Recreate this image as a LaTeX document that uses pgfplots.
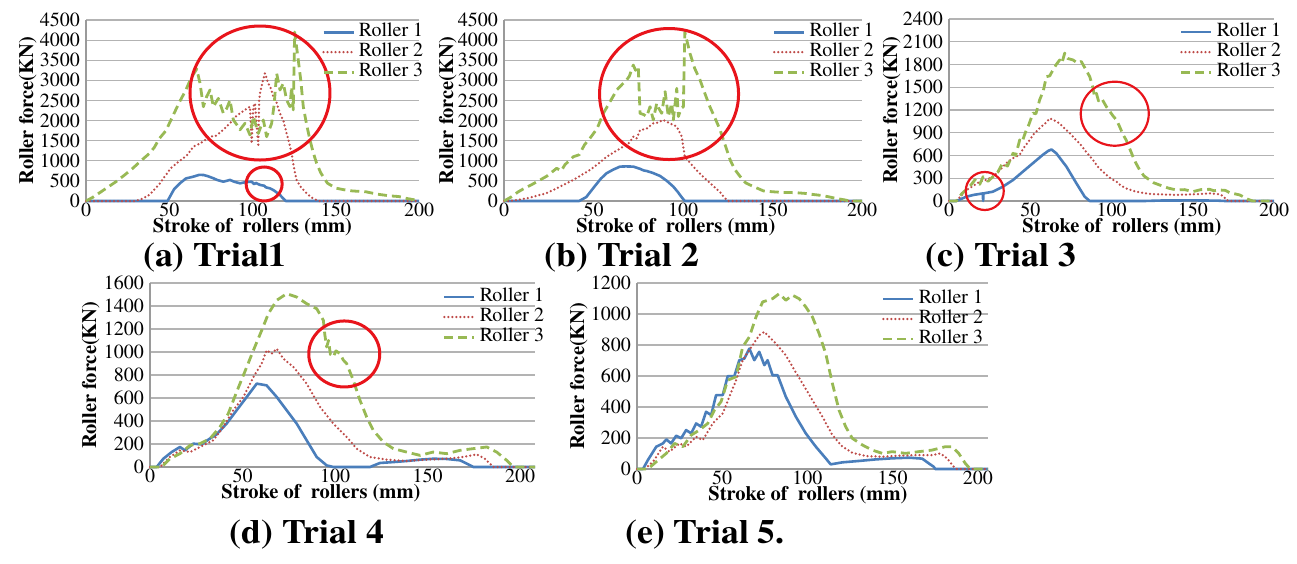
\documentclass[border=0pt]{standalone}
\usepackage{fontspec}
\setmainfont{texgyretermes-regular.otf}[BoldFont=texgyretermes-bold.otf]
\usepackage{graphicx}
\usepackage{pgfplots}
\pgfplotsset{compat=1.18}
\definecolor{c1}{HTML}{4A7EBB}
\definecolor{c2}{HTML}{BE4B48}
\definecolor{c3}{HTML}{98B954}
\definecolor{gridgray}{HTML}{B3B3B3}
\definecolor{axisgray}{HTML}{9A9A9A}
\definecolor{circ}{HTML}{E8141B}
\pgfplotsset{
  legend image code/.code={\draw[mark repeat=2,mark phase=2,#1] plot coordinates {(0pt,0pt) (15pt,0pt) (30pt,0pt)};},
  r1/.style={c1, line width=2.6pt, line join=round},
  r2/.style={c2, line width=2.5pt, line cap=round, line join=round, dash pattern=on 0pt off 4pt},
  r3/.style={c3, line width=2.8pt, line join=round, dash pattern=on 9pt off 5pt},
  trial/.style n args={4}{
    scale only axis, anchor=south west,
    xmin=0, ymin=0, clip=false,
    axis x line*=bottom, axis y line*=left,
    axis line style={draw=axisgray, line width=1.2pt},
    ymajorgrids, grid style={draw=gridgray, line width=1.2pt},
    major tick length=0pt,
    xtick={0,50,100,150,200},
    tick label style={font=\fontsize{20}{24}\selectfont},
    /pgf/number format/assume math mode=true,
    /pgf/number format/1000 sep={},
    yticklabel style={anchor=east, inner sep=0pt, xshift=-6pt},
    xticklabel style={anchor=north, inner sep=0pt, yshift=-2pt},
    xlabel={Stroke of\ \ rollers (mm)},
    ylabel={Roller force(KN)},
    every axis y label/.style={at={(axis description cs:#1,0.5)}, rotate=90, anchor=base, font=\fontsize{20.5}{24}\selectfont\bfseries},
    every axis x label/.style={at={(axis description cs:#2,0)}, anchor=base, yshift=-31pt, font=\fontsize{20.5}{24}\selectfont\bfseries},
    legend cell align=left,
    legend style={draw=none, fill=none, inner sep=0pt, outer sep=0pt,
      at={(axis description cs:#3,#4)}, anchor=north west,
      row sep=1pt, column sep=4pt, font=\fontsize{20}{20}\selectfont,
      nodes={inner sep=0pt, text height=14pt, text depth=5pt}},
  },
}
\begin{document}
\begin{tikzpicture}
\path[use as bounding box] (0pt,0pt) rectangle (1297pt,-563pt);

% (a)
\begin{axis}[trial={-0.159}{0.5}{0.709}{0.985}, at={(86pt,-201pt)}, width=333pt, height=181pt,
  xmax=200, ymax=4500, ytick={0,500,...,4500}]
\addplot[r1] coordinates {(0,0) (49,0) (50.4,107) (53,300) (56.4,440) (60,560) (64.5,606) (68,650) (70.5,647) (73,620) (76.5,565) (79,520) (82.5,480) (86.5,524) (89,480) (92.5,440) (96,470) (99.5,480) (101,420) (102,450) (104.5,400) (107,380) (108,340) (110.5,315) (113,260) (116.5,150) (118.5,60) (120,0) (200,0)};
\addplot[r2] coordinates {(0,0) (30,0) (34,60) (38,150) (41,280) (44.4,440) (48,650) (51,820) (54.4,937) (58,1050) (61,1150) (64.4,1350) (68,1420) (71,1500) (74.5,1600) (78,1620) (81,1720) (84.5,1850) (88,2000) (90,2100) (92.5,2180) (95,2250) (98.5,2345) (99.5,1430) (100.5,2350) (101.5,2430) (103.5,1350) (104,2500) (104.5,2676) (106,2950) (107.5,3175) (109.5,2925) (111,2800) (112.5,2594) (114,2500) (116.5,2180) (118.5,2000) (120.5,1680) (122,1450) (123.5,1185) (125,800) (126.5,520) (129,350) (132.5,190) (135,100) (138.5,20) (140,0) (200,0)};
\addplot[r3] coordinates {(0,0) (4,90) (8,200) (13,340) (18,480) (23,640) (28,810) (33,1000) (38,1180) (41,1330) (44,1550) (48,1750) (52,2100) (56,2450) (60,2760) (63,3050) (66.5,3280) (68.5,2925) (70.5,2345) (72.5,2600) (74.5,2760) (76.5,2345) (78,2450) (79.5,2550) (82.5,2180) (84.5,2300) (86.5,2510) (88.5,2015) (90.5,1900) (92.5,1770) (95.5,1932) (98.5,1640) (100.5,2100) (103.5,1680) (106.5,2015) (108.5,1600) (111.5,1930) (113,2400) (114.5,3175) (116.5,2760) (118.5,2925) (120.5,2510) (122.5,2345) (123.5,2840) (124.5,2265) (125.3,4200) (127.5,3500) (129,3000) (130.5,2345) (132.5,1900) (134.5,1520) (136.5,1200) (138.5,940) (141,700) (145,443) (150,320) (155,280) (160,250) (168,230) (175,170) (182,130) (188,110) (193,60) (198,25) (200,0)};
\legend{Roller 1,Roller 2,Roller 3}
\draw[circ, line width=3pt] (axis cs:104.5,2685) ellipse [x radius=70pt, y radius=67pt];
\draw[circ, line width=3pt] (axis cs:107,423) ellipse [x radius=18pt, y radius=17pt];
\end{axis}

% (b)
\begin{axis}[trial={-0.142}{0.48}{0.751}{0.985}, at={(504pt,-201pt)}, width=358pt, height=181pt,
  xmax=200, ymax=4500, ytick={0,500,...,4500}]
\addplot[r1] coordinates {(0,0) (42,0) (46,100) (50.5,357) (54,550) (57.3,690) (61,780) (64.8,855) (68,860) (72.2,855) (76,800) (78,760) (79.7,746) (83,700) (87.2,622) (91,500) (94.6,357) (97,230) (99.5,80) (101,0) (200,0)};
\addplot[r2] coordinates {(0,0) (3,0) (8,30) (14,80) (20,150) (24,200) (29.4,315) (34,420) (38.7,522) (43,640) (48,770) (52.5,920) (57.3,1100) (62,1230) (66.6,1350) (70,1450) (72.2,1600) (74,1550) (76,1760) (79.7,1800) (83.4,1930) (86,1950) (89,2015) (92.8,1930) (96.5,1850) (99.3,1600) (101,1100) (103,1000) (105.8,850) (109,700) (113.2,520) (117,370) (120.7,220) (123,90) (125,0) (200,0)};
\addplot[r3] coordinates {(0,0) (4,100) (8,230) (12,330) (16,420) (20.1,522) (24,620) (29.4,813) (32,750) (34,900) (38.7,1100) (42,1150) (45,1400) (48,1558) (52,1800) (55.5,2180) (59,2450) (63,2760) (66,2900) (68.5,3010) (70,3100) (72.2,3380) (73.5,3250) (75,3340) (76,2180) (78,2150) (79.7,2100) (81.6,2345) (83.4,2015) (85.3,2430) (86.5,2300) (88.1,2180) (90,2720) (91.8,2100) (93.7,2430) (94.6,2015) (96.5,2800) (97.4,2100) (99,2300) (100.2,2345) (101,4200) (103.9,3670) (106.5,3300) (109.5,3010) (112,2700) (115,2345) (118,2050) (120.7,1770) (123.5,1400) (126.3,1025) (129,780) (131.9,610) (135,450) (139.3,360) (145,250) (150,230) (155,215) (163,207) (168,190) (172,166) (177,140) (181,108) (186,60) (190.7,25) (193,0) (200,0)};
\legend{Roller 1,Roller 2,Roller 3}
\draw[circ, line width=3pt] (axis cs:92.2,2660) ellipse [x radius=69.5pt, y radius=65.5pt];
\end{axis}

% (c)
\begin{axis}[trial={-0.16}{0.532}{0.711}{0.98}, at={(949pt,-201pt)}, width=325pt, height=182pt,
  xmax=200, ymax=2400, ytick={0,300,...,2400}]
\addplot[r1] coordinates {(0,0) (4.5,0) (10.7,57) (15,80) (20.8,100) (21,0) (21.2,100) (27,123) (33.2,190) (39.4,277) (45.5,388) (51.7,500) (57.8,610) (61,660) (63,680) (66,630) (72.2,455) (78.4,233) (83.5,57) (86.6,0) (120,0) (130,6) (150,8) (165,5) (170,0) (200,0)};
\addplot[r2] coordinates {(0,0) (4.5,0) (10.7,145) (15,200) (18.9,255) (23,280) (27,320) (31,400) (35.3,500) (39,560) (43.5,610) (46,700) (49.6,805) (52,880) (55.8,960) (59,1020) (62,1090) (65,1060) (68,1025) (71,960) (74.3,895) (77,830) (80.4,760) (84,660) (88.6,540) (92,440) (96.8,345) (100,290) (103,255) (106,200) (109,167) (113,135) (117.3,115) (123,95) (129.6,88) (140,80) (150,88) (160.4,101) (166.6,88) (169,60) (170.7,13) (172.7,0) (200,0)};
\addplot[r3] coordinates {(0,0) (4.5,0) (8,100) (12.7,190) (16,280) (18.9,220) (21,320) (24,260) (27,320) (30,380) (33,500) (36,460) (39.4,630) (41,600) (43.5,805) (45,780) (47.6,940) (49,1000) (51.7,1160) (53.5,1150) (55.8,1335) (58,1450) (59.9,1640) (62,1650) (64,1730) (66,1800) (68.1,1860) (69.5,1820) (71.2,1950) (73,1880) (76.3,1860) (79,1820) (81.4,1840) (84,1740) (86.6,1640) (88.5,1500) (89.5,1380) (90.7,1420) (92,1320) (94,1350) (96.8,1245) (99,1180) (101,1120) (103,1070) (105,980) (107,880) (109,805) (111,700) (113.2,585) (115,500) (117.3,410) (120,330) (123.5,277) (126,240) (129.6,211) (135,170) (140,145) (145,150) (150,123) (155,150) (160.4,154) (163,135) (166.6,145) (170,140) (172.7,110) (178.9,80) (182,45) (184,22) (187,0) (200,0)};
\legend{Roller 1,Roller 2,Roller 3}
\draw[circ, line width=2.2pt] (axis cs:102,1151) ellipse [x radius=34pt, y radius=32pt];
\draw[circ, line width=2.2pt] (axis cs:22,132) ellipse [x radius=19pt, y radius=19pt];
\end{axis}

% (d)
\begin{axis}[trial={-0.140}{0.444}{0.761}{0.975}, at={(150pt,-467pt)}, width=385pt, height=184pt,
  xmax=208.1, ymax=1600, ytick={0,200,...,1600}]
\addplot[r1] coordinates {(0,0) (3.6,0) (7.2,72) (11.7,130) (16.2,174) (18.9,145) (23.4,203) (27.9,197) (31.5,238) (36,284) (41.4,377) (46.8,493) (52.3,609) (57.7,725) (63,710) (68.5,609) (73.9,493) (79.3,377) (84.7,232) (90.1,87) (95.5,14) (99.1,0) (118.9,0) (124.3,35) (131.5,43) (138.7,52) (146,64) (153,72) (160.4,70) (167.6,58) (172,23) (174.8,0) (208.1,0)};
\addplot[r2] coordinates {(0,0) (5.4,0) (10.8,87) (16.2,145) (21.6,130) (27,174) (34.2,232) (39.6,348) (45,493) (50.5,609) (55.9,783) (60.4,899) (63,1015) (65.8,986) (68.5,1029) (72.1,942) (77.5,870) (84.7,725) (91.9,522) (99.1,377) (106.3,261) (111.7,160) (118.9,87) (128,64) (138.7,52) (149.5,64) (160.4,72) (169.4,87) (176.6,110) (181,72) (185.6,0) (208.1,0)};
\addplot[r3] coordinates {(0,0) (6.3,0) (10.8,72) (16.2,116) (21.6,188) (27,203) (32.4,246) (37.8,348) (42.3,464) (46.8,652) (52.3,870) (55.9,1015) (60.4,1189) (64,1334) (68.5,1450) (73.9,1507) (79.3,1478) (84.7,1420) (90.1,1377) (93.7,1276) (94.5,1150) (95.5,1044) (96.5,1100) (97.5,980) (99.1,957) (100.5,1010) (102.7,986) (104.5,930) (106.3,899) (109.9,754) (113.5,580) (117.1,435) (120.7,319) (126.1,217) (131.5,160) (138.7,130) (146,101) (153,130) (160.4,116) (167.6,145) (174.8,160) (182,174) (187.4,130) (192.8,58) (196.4,0) (208.1,0)};
\legend{Roller 1,Roller 2,Roller 3}
\draw[circ, line width=3pt] (axis cs:105,983) ellipse [x radius=35.5pt, y radius=33pt];
\end{axis}

% (e)
\begin{axis}[trial={-0.151}{0.487}{0.698}{0.965}, at={(637pt,-469pt)}, width=351pt, height=186pt,
  xmax=205.9, ymax=1200, ytick={0,200,...,1200}]
\addplot[r1] coordinates {(0,0) (3.5,0) (6.4,58) (11.3,144) (15.2,165) (17.2,191) (20,165) (23,215) (25.9,198) (28.8,251) (31.8,230) (34.7,294) (37.6,273) (40.5,369) (43.5,348) (46.4,477) (50.3,477) (53.2,599) (57.1,599) (60,702) (63,713) (65.9,777) (68.8,702) (71.7,756) (74.7,670) (76.6,702) (79.5,605) (82.5,605) (87.3,466) (93.2,337) (99,230) (104.9,144) (110.7,69) (113.6,30) (120.5,43) (130.2,52) (140,62) (149.7,69) (159.5,73) (167.3,67) (171.2,36) (174,15) (175,0) (205.9,0)};
\addplot[r2] coordinates {(0,0) (4.5,0) (9.4,47) (15.2,144) (19.1,112) (25,165) (28.8,144) (34.7,208) (38.6,187) (44.4,294) (50.3,359) (54.2,466) (58.1,573) (62,702) (67.8,799) (71.7,863) (74.7,885) (77.6,852) (81.5,809) (87.3,734) (91.2,659) (97.1,552) (102.9,444) (108.8,337) (114.6,219) (120.5,144) (126.3,105) (134.1,84) (143.9,79) (153.6,86) (163.4,90) (173.1,90) (178,101) (181.9,69) (185.8,15) (187.7,0) (205.9,0)};
\addplot[r3] coordinates {(0,0) (6.4,0) (11.3,47) (17.2,101) (22,165) (26.9,144) (31.8,219) (36.6,251) (41.5,294) (45.4,380) (49.3,434) (53.2,573) (58.1,595) (62,788) (65.9,852) (69.8,981) (73.7,1078) (79.5,1099) (83.4,1131) (87.3,1089) (91.2,1121) (95.1,1099) (99,1046) (102.9,981) (106.8,874) (110.7,745) (114.6,552) (118.5,380) (122.4,273) (126.3,198) (132.2,155) (138,122) (143.9,101) (149.7,112) (157.5,101) (165.3,112) (173.1,122) (180.9,144) (184.8,144) (188.7,101) (192.6,36) (195.5,0) (205.9,0)};
\legend{Roller 1,Roller 2,Roller 3}
\end{axis}

\begin{scope}[every node/.style={font=\fontsize{34}{34}\selectfont\bfseries, inner sep=0pt}]
\node at (215pt,-258pt) {\scalebox{1.05}[1]{(a) Trial1}};
\node at (622pt,-258pt) {\scalebox{1.05}[1]{(b) Trial 2}};
\node at (1001pt,-258pt) {\scalebox{1.05}[1]{(c) Trial 3}};
\node at (307pt,-535pt) {\scalebox{1.05}[1]{(d) Trial 4}};
\node at (705pt,-535pt) {\scalebox{1.05}[1]{(e) Trial 5.}};
\end{scope}
\end{tikzpicture}
\end{document}
